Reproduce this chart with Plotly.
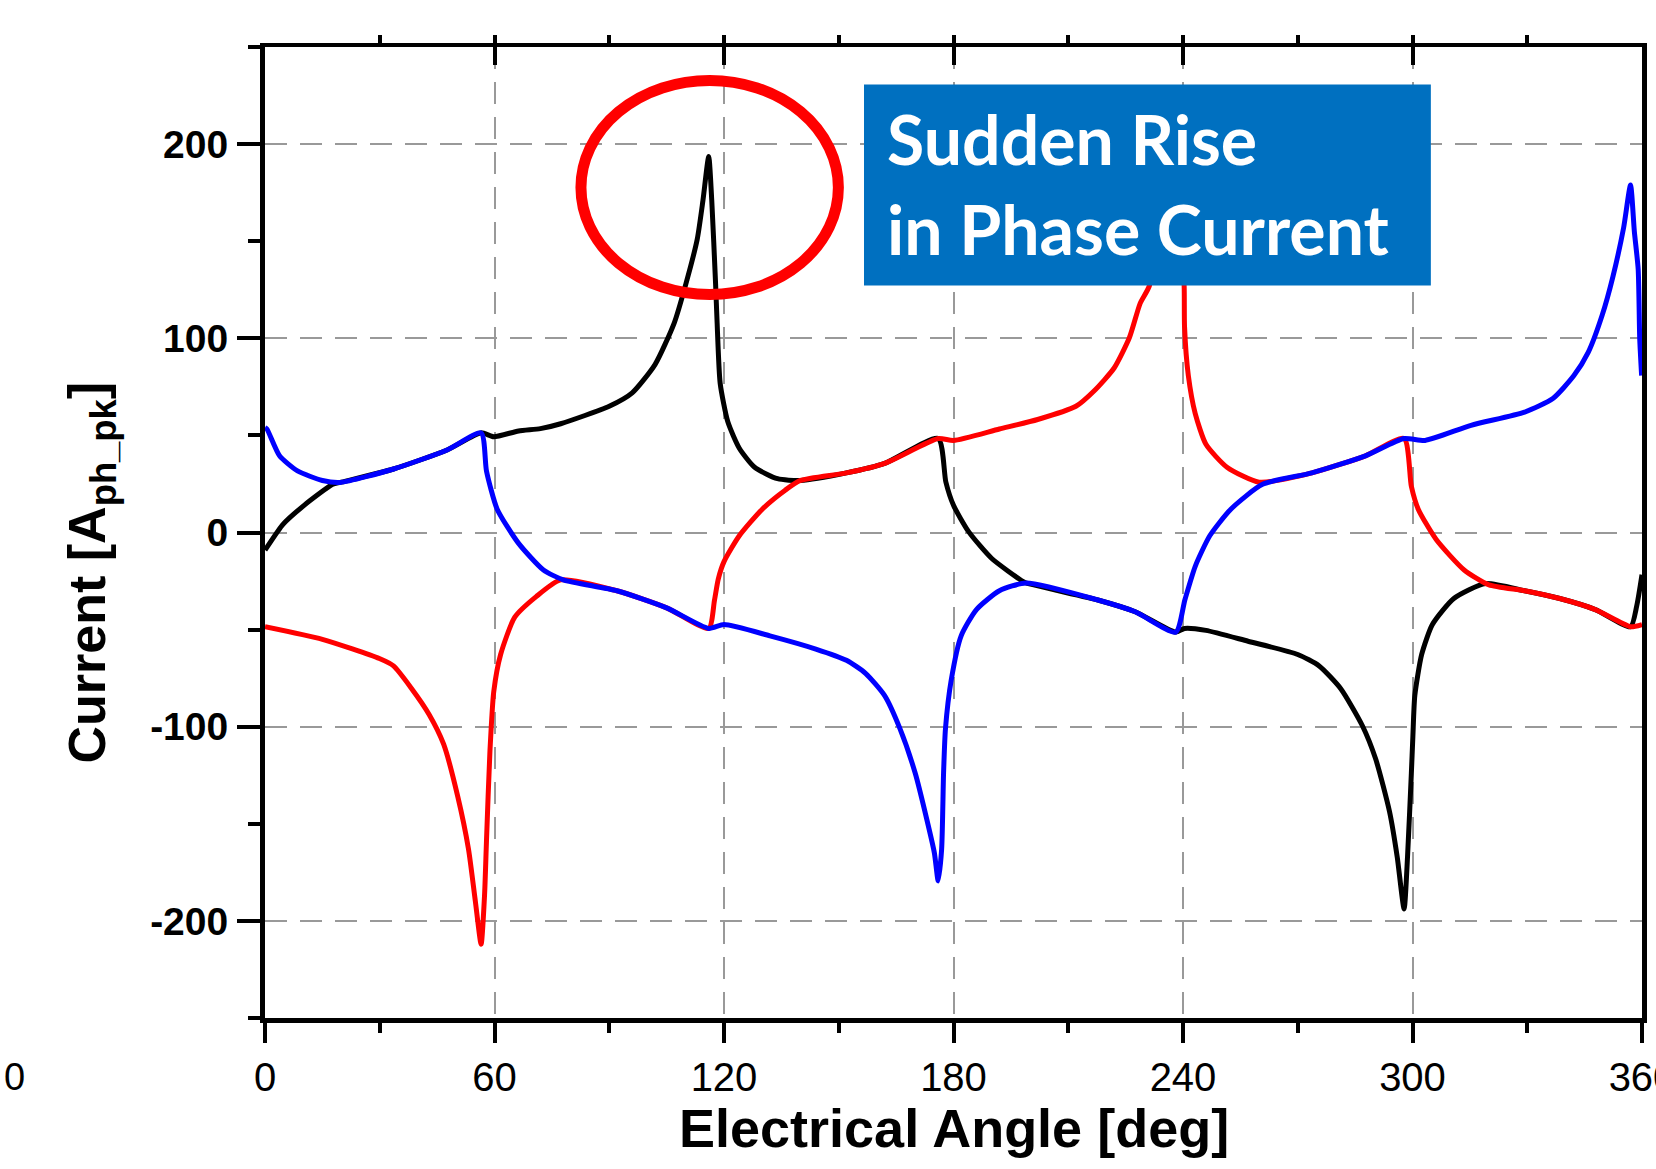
import plotly.graph_objects as go

# ---------------- data ----------------
black_x = [0, 0.5, 4.7, 10.3, 17.7, 19.7, 33.6, 47.6, 56.5, 59.8, 66.3, 72, 77.3, 90, 96, 102, 107, 110,
           113, 114.5, 116, 116.8, 117.8, 118.2, 119, 121, 124, 128, 134, 140, 152, 162, 176, 178, 180,
           184, 190, 198, 199, 218.2, 227.5, 238.1, 240.4, 246, 257, 270, 275.6, 281.2, 286.9, 290.4,
           294, 296, 297.8, 298.7, 299.7, 300.1, 300.6, 302.4, 305.2, 310.8, 319.1, 329.3, 338.5,
           347.8, 357, 358.6, 360]
black_y = [-9, -7.6, 4.2, 14.1, 24.8, 25.8, 32.7, 42.5, 51.3, 49.3, 52.3, 53.5, 56, 65, 71.9, 86.6, 108,
           127.8, 151, 171, 193.6, 171, 128, 108, 76.8, 57, 43.4, 33.6, 27.7, 26.8, 30.7, 35.6, 48.4,
           26, 14, 0.3, -13.4, -25, -26, -35, -40.8, -51.3, -49.4, -50.4, -56, -62.8, -68.7, -80.3,
           -99.5, -116.8, -143.8, -167, -193.9, -167, -124, -105, -84, -62.8, -47.4, -34, -26.3, -30,
           -34, -39.7, -48.5, -38, -21.7]

red_x = [0, 15, 29.9, 33.6, 38.3, 42.9, 46.7, 50.4, 53.2, 55, 56.5, 57.4, 57.9, 58.8, 59.8, 61.6, 65.3,
         70.9, 77.3, 92, 105, 116, 117.5, 118.5, 120, 124, 130, 136, 140, 152, 162, 176, 180, 192, 202,
         212, 216.8, 222, 226, 228.8, 231.2, 233.5, 236, 237.5, 238.5, 239.5, 240.3, 240.4, 241.4,
         243.2, 246, 251.5, 259.9, 273.7, 287.7, 297.8, 299.7, 301.5, 306.2, 313.5, 320, 329.3,
         338.5, 347.8, 357, 360]
red_y = [-48.5, -55, -64.9, -68.7, -80.3, -93.7, -109, -136, -163, -190, -212, -186.6, -159, -113, -82,
         -62.8, -43.6, -33, -24.4, -30, -38.8, -49.4, -35, -24, -15, -1.7, 12, 21.8, 26.8, 30.7, 35.6,
         48.4, 47.4, 53.3, 58.2, 65, 73, 84.7, 100.4, 118, 127, 160, 200, 215, 190, 150, 127, 106, 80.7,
         61.2, 45.4, 33.6, 25.9, 30.7, 39.5, 48.4, 23.8, 12, -3.6, -19.3, -27, -30, -34, -39.7, -48.5,
         -47.4]

blue_x = [0, 0.5, 3.8, 8.5, 15, 19.7, 33.6, 47.6, 56.5, 57.9, 60.7, 66.3, 72.8, 78, 92, 105, 116, 120,
          132, 144, 152, 157, 162, 166, 170, 173, 175, 176, 176.9, 177.4, 177.9, 179.4, 182, 186, 192,
          199, 218.2, 227.5, 238.1, 240.5, 243.2, 247, 252.5, 260.8, 273.7, 287.7, 297.8, 303.3,
          315.3, 329.3, 336.7, 342.2, 345.9, 349.6, 352.4, 355.2, 357, 358, 359, 359.4, 359.9]
blue_y = [54, 53.3, 39.5, 31.7, 26.8, 25.8, 32.7, 42.5, 51.3, 31.7, 12, -5.6, -19.3, -24.4, -30, -38.8,
          -49.4, -47.4, -53.2, -60, -65.8, -72.5, -84, -101, -124, -147.6, -165, -179.4, -163, -124,
          -101, -76, -53.2, -39.7, -30, -26, -35, -40.8, -51.3, -34.6, -17.4, -1.7, 12, 24.8, 30.7,
          39.5, 48.4, 47.4, 55.2, 62, 69, 80.8, 92.6, 112, 131.8, 157, 178.9, 155, 135.6, 100, 80.8]

x_tick_vals = [0, 60, 120, 180, 240, 300, 360]
x_tick_text = ["0", "60", "120", "180", "240", "300", "360"]
y_tick_vals = [-200, -100, 0, 100, 200]
y_tick_text = ["-200", "-100", "0", "100", "200"]

x_title = "Electrical Angle [deg]"
y_title = "Current [A<sub>ph_pk</sub>]"
callout_lines = ["Sudden Rise", "in Phase Current"]

# ---------------- figure ----------------
W, H = 1656, 1169
ML, MR, MT, MB = 265, 14, 47, 151
AX_FONT = "Liberation Sans, Arial, sans-serif"

fig = go.Figure()
for xs, ys, col in [(black_x, black_y, "#000000"), (red_x, red_y, "#FF0000"), (blue_x, blue_y, "#0000FF")]:
    fig.add_trace(go.Scatter(x=xs, y=ys, mode="lines",
                             line=dict(color=col, width=5, shape="spline", smoothing=0.6),
                             hoverinfo="skip", showlegend=False))

# invisible helper trace so the top axis is drawn
fig.add_trace(go.Scatter(x=black_x, y=black_y, xaxis="x2", yaxis="y", mode="lines",
                         line=dict(width=0, color="rgba(0,0,0,0)"), opacity=0,
                         hoverinfo="skip", showlegend=False))

grid = dict(showgrid=True, gridcolor="#999999", gridwidth=2.2, griddash="22px,13px")

fig.update_layout(
    width=W, height=H, autosize=False,
    margin=dict(l=ML, r=MR, t=MT, b=MB, pad=0, autoexpand=False),
    paper_bgcolor="white", plot_bgcolor="white",
    showlegend=False,
    xaxis=dict(range=[0, 360], tickmode="array", tickvals=x_tick_vals, ticktext=x_tick_text,
               ticks="outside", ticklen=20, tickwidth=4, tickcolor="black", automargin=False,
               showline=True, linewidth=5, linecolor="black", mirror=False, zeroline=False,
               tickfont=dict(family=AX_FONT, size=40, color="black"),
               ticklabelstandoff=0, ticklabeloverflow="allow",
               minor=dict(tickmode="linear", tick0=0, dtick=30, ticks="outside", ticklen=10,
                          tickwidth=4, tickcolor="black", showgrid=False),
               **grid),
    xaxis2=dict(range=[0, 360], overlaying="x", side="top", anchor="y", automargin=False,
                tickmode="linear", tick0=0, dtick=60, ticks="inside", ticklen=18, tickwidth=4,
                tickcolor="black", showline=True, linewidth=3.5, linecolor="black",
                showticklabels=False, showgrid=False, zeroline=False,
                minor=dict(tickmode="linear", tick0=0, dtick=30, ticks="outside", ticklen=8,
                           tickwidth=4, tickcolor="black", showgrid=False)),
    yaxis=dict(range=[-250, 250], tickmode="array", tickvals=y_tick_vals, ticktext=y_tick_text,
               ticks="outside", ticklen=23, tickwidth=4, tickcolor="black", automargin=False,
               showline=True, linewidth=5, linecolor="black", mirror=True, zeroline=False,
               tickfont=dict(family=AX_FONT, size=39, color="black", weight="bold"),
               ticklabelstandoff=1,
               minor=dict(tickmode="linear", tick0=0, dtick=50, ticks="outside", ticklen=12,
                          tickwidth=4, tickcolor="black", showgrid=False),
               **grid),
)

# callout box and ellipse
fig.add_shape(type="rect", xref="x", yref="y", x0=156.6, x1=304.8, y0=127.2, y1=230.7,
              fillcolor="#0070C0", line=dict(width=0), layer="above")
fig.add_shape(type="circle", xref="x", yref="y", x0=82.6, x1=149.9, y0=122.5, y1=232.8,
              line=dict(color="#FF0000", width=11), fillcolor="rgba(0,0,0,0)", layer="above")

ann = []
for txt, yy in zip(callout_lines, [0.9053, 0.8131]):
    ann.append(dict(text=txt, xref="paper", yref="paper", x=0.4503, y=yy, xanchor="left",
                    yanchor="middle", showarrow=False,
                    font=dict(family="Lato, Open Sans, sans-serif", size=68, color="white",
                              weight="bold")))
ann.append(dict(text=x_title, xref="paper", yref="paper", x=0.5, y=-0.1133, xanchor="center",
                yanchor="middle", showarrow=False,
                font=dict(family=AX_FONT, size=54, color="black", weight="bold")))
ann.append(dict(text=y_title, xref="paper", yref="paper", x=-0.1264, y=0.4588, xanchor="center",
                yanchor="middle", showarrow=False, textangle=-90,
                font=dict(family=AX_FONT, size=52, color="black", weight="bold")))
ann.append(dict(text="0", xref="paper", yref="paper", x=-0.1819, y=-0.0608, xanchor="center",
                yanchor="middle", showarrow=False,
                font=dict(family=AX_FONT, size=38, color="black")))
fig.update_layout(annotations=ann)

fig.write_html("out.html", config={"responsive": False, "displayModeBar": False},
               post_script="document.body.style.margin='0';")
